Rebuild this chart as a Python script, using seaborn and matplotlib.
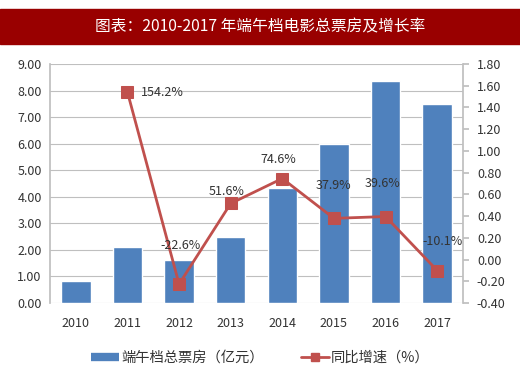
import numpy as np
import pandas as pd
import seaborn as sns
import matplotlib.pyplot as plt
from matplotlib.patches import Rectangle
from matplotlib.lines import Line2D

# data
years = ['2010', '2011', '2012', '2013', '2014', '2015', '2016', '2017']
box_office = [0.82, 2.10, 1.62, 2.47, 4.32, 5.97, 8.36, 7.51]
growth = [np.nan, 1.542, -0.226, 0.516, 0.746, 0.379, 0.396, -0.101]
growth_labels = ['', '154.2%', '-22.6%', '51.6%', '74.6%', '37.9%', '39.6%', '-10.1%']

title = '图表：2010-2017 年端午档电影总票房及增长率'
bar_name = '端午档总票房（亿元）'
line_name = '同比增速（%）'

BLUE = '#4F81BD'
RED = '#C0504D'

sns.set_theme(style='white')
plt.rcParams['font.family'] = ['Noto Sans CJK SC', 'DejaVu Sans']

df = pd.DataFrame({'year': years, 'box': box_office, 'growth': growth})
df['pos'] = range(len(df))

fig = plt.figure(figsize=(5.2, 3.72), dpi=100)

# title banner
fig.patches.append(Rectangle((0, 1 - 44 / 372), 1, 35 / 372, transform=fig.transFigure,
                             color='#990000', zorder=0))
fig.text(0.5, 1 - 26.5 / 372, title, color='white', fontsize=11.3,
         ha='center', va='center')

ax = fig.add_axes([50 / 520, 1 - 303 / 372, 413 / 520, 239 / 372])
sns.barplot(data=df, x='year', y='box', color=BLUE, width=0.57, saturation=1, ax=ax)
ax.set_ylim(0, 9)
ax.set_yticks(np.arange(0, 9.01, 1))
ax.set_yticklabels([f'{v:.2f}' for v in np.arange(0, 9.01, 1)])
ax.set_xlabel('')
ax.set_ylabel('')
ax.set_xlim(-0.5, len(years) - 0.5)
ax.grid(axis='y', color='#BFBFBF', linewidth=0.8)
ax.set_axisbelow(True)
for s in ['top', 'right', 'bottom', 'left']:
    ax.spines[s].set_visible(False)
ax.spines['left'].set_visible(True)
ax.spines['left'].set_color('#BFBFBF')
ax.tick_params(axis='both', labelsize=9, colors='#333333', length=0)
ax.tick_params(axis='y', pad=6)
ax.tick_params(axis='x', pad=10)

ax2 = ax.twinx()
sns.lineplot(data=df.dropna(), x='pos', y='growth', color=RED, linewidth=2,
             marker='s', markersize=8, markeredgecolor=RED, ax=ax2, legend=False)
ax2.set_ylim(-0.4, 1.8)
rt = np.arange(-0.4, 1.81, 0.2)
ax2.set_yticks(rt)
ax2.set_yticklabels([f'{v:.2f}' for v in rt])
ax2.set_ylabel('')
ax2.set_xlabel('')
for s in ['top', 'left', 'bottom']:
    ax2.spines[s].set_visible(False)
ax2.spines['right'].set_color('#BFBFBF')
ax2.tick_params(axis='y', labelsize=9, colors='#333333', length=4, color='#BFBFBF', pad=6)

offsets = {1: (10, 0, 'left', 'center'), 2: (1, 23, 'center', 'bottom'),
           3: (-3, 4, 'center', 'bottom'), 4: (-3, 9, 'center', 'bottom'),
           5: (0, 19, 'center', 'bottom'), 6: (-2, 19, 'center', 'bottom'),
           7: (4, 16, 'center', 'bottom')}
for i, lab in enumerate(growth_labels):
    if not lab:
        continue
    dx, dy, ha, va = offsets[i]
    ax2.annotate(lab, (df['pos'][i], growth[i]), xytext=(dx, dy), textcoords='offset points',
                 ha=ha, va=va, fontsize=9, color='#333333')

handles = [Line2D([0], [0], color=BLUE, linewidth=6, solid_capstyle='butt'),
           Line2D([0], [0], color=RED, linewidth=2, marker='s', markersize=6)]
fig.legend(handles, [bar_name, line_name], loc='center', bbox_to_anchor=(0.5, 1 - 358 / 372),
           ncol=2, frameon=False, fontsize=10.3, handlelength=2.0, columnspacing=2.6,
           handletextpad=0.1, labelcolor='#333333')

fig.savefig('out.png', dpi=100)
